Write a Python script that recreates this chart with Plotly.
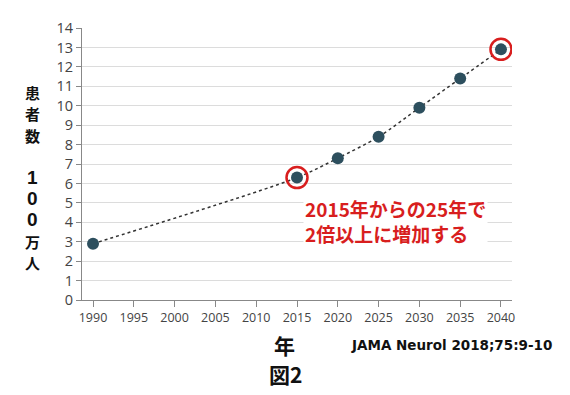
import plotly.graph_objects as go

years = [1990, 2015, 2020, 2025, 2030, 2035, 2040]
patients = [2.9, 6.3, 7.3, 8.4, 9.9, 11.4, 12.9]
highlight_years = [2015, 2040]
highlight_vals = [6.3, 12.9]
x_ticks = list(range(1990, 2041, 5))
y_ticks = list(range(0, 15))
ylabel_chars = ["患", "者", "数", "", "1", "0", "0", "万", "人"]

fig = go.Figure()
fig.add_trace(go.Scatter(
    x=years, y=patients, mode="lines",
    line=dict(color="#333333", width=1.5, dash="dot", shape="spline", smoothing=0.8),
    hoverinfo="skip", showlegend=False))
fig.add_trace(go.Scatter(
    x=years, y=patients, mode="markers",
    marker=dict(color="#2d4f5e", size=12),
    showlegend=False))
fig.add_trace(go.Scatter(
    x=highlight_years, y=highlight_vals, mode="markers",
    marker=dict(color="rgba(0,0,0,0)", size=21, line=dict(color="#d81e1e", width=2.5)),
    showlegend=False))

# page body has an 8px margin; figure sized to fit the window
W, H = 562, 387
L, T, R, B = 74, 10, 58, 95
fig.update_layout(
    width=W, height=H,
    margin=dict(l=L, r=R, t=T, b=B),
    paper_bgcolor="white", plot_bgcolor="white",
    font=dict(family="Open Sans, Noto Sans CJK JP, sans-serif", color="#444"),
    xaxis=dict(range=[1988.65, 2041.35], tickvals=x_ticks, showgrid=False,
               showline=True, linecolor="#888", linewidth=1,
               ticks="outside", ticklen=6, tickcolor="#888",
               tickfont=dict(size=12.5, color="#444"), zeroline=False, fixedrange=True),
    yaxis=dict(range=[0, 14], tickvals=y_ticks, showgrid=True, gridcolor="#dcdcdc",
               showline=True, linecolor="#888", linewidth=1,
               ticks="outside", ticklen=5, tickcolor="#888",
               tickfont=dict(size=14.5, color="#444"), zeroline=False, fixedrange=True),
)

PW, PH = W - L - R, H - T - B


def px(xp):
    return (xp - 8 - L) / PW


def py(yp):
    return (H - B - (yp - 8)) / PH


for i, ch in enumerate(ylabel_chars):
    if not ch:
        continue
    if ch.isdigit():
        f = dict(size=19, color="#111", family="Liberation Sans")
    else:
        f = dict(size=15, color="#111", family="Noto Sans CJK JP")
    fig.add_annotation(text="<b>" + ch + "</b>", xref="paper", yref="paper",
                       x=px(32), y=py(85 + 22 * i), xanchor="center", yanchor="middle",
                       showarrow=False, font=f)

fig.add_annotation(text="<b>2015年からの25年で<br>2倍以上に増加する</b>",
                   xref="paper", yref="paper",
                   x=px(303), y=py(189), xanchor="left", yanchor="top",
                   showarrow=False, align="left", bgcolor="white", borderpad=1,
                   font=dict(size=19, color="#d81e1e", family="Noto Sans CJK JP"))
fig.add_annotation(text="<b>年</b>", xref="paper", yref="paper",
                   x=px(284), y=py(347), xanchor="center", yanchor="middle",
                   showarrow=False, font=dict(size=21, color="#111", family="Noto Sans CJK JP"))
fig.add_annotation(text="<b>JAMA Neurol 2018;75:9-10</b>", xref="paper", yref="paper",
                   x=px(554), y=py(347), xanchor="right", yanchor="middle",
                   showarrow=False, font=dict(size=13.5, color="#111", family="DejaVu Sans"))
fig.add_annotation(text="<b>図2</b>", xref="paper", yref="paper",
                   x=px(285), y=py(377), xanchor="center", yanchor="middle",
                   showarrow=False, font=dict(size=21, color="#111", family="Noto Sans CJK JP"))

fig.write_html("out.html")
